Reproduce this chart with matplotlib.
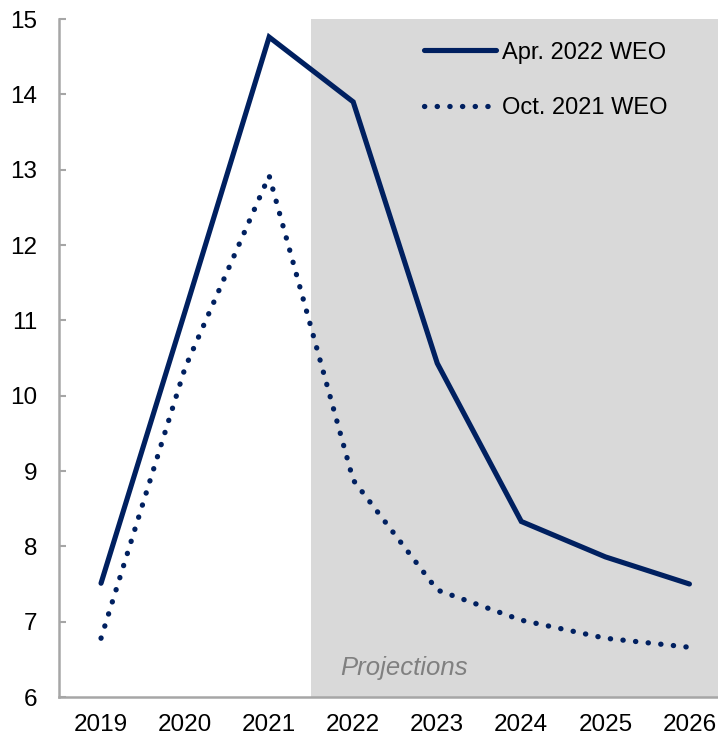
import matplotlib
matplotlib.use('Agg')
import matplotlib.pyplot as plt

plt.rcParams['font.family'] = ['Liberation Sans', 'DejaVu Sans']

years = [2019, 2020, 2021, 2022, 2023, 2024, 2025, 2026]
apr_2022 = [7.51, 11.12, 14.76, 13.90, 10.43, 8.33, 7.86, 7.50]
oct_2021 = [6.78, 10.37, 12.92, 8.88, 7.42, 7.02, 6.78, 6.66]
labels = ['Apr. 2022 WEO', 'Oct. 2021 WEO']

navy = '#002060'
grey = '#a6a6a6'

fig = plt.figure(figsize=(7.18, 7.38), dpi=100)
ax = fig.add_axes([59 / 718, 41 / 738, 1 - 59 / 718, 678 / 738])

# projection shading
ax.axvspan(2021.5, 2027, color='#d9d9d9', lw=0, zorder=0)
ax.text(2022.6, 6.39, 'Projections', style='italic', color='#808080',
        fontsize=18.5, ha='center', va='center')

ax.plot(years, apr_2022, color=navy, lw=3.7, label=labels[0],
        solid_capstyle='round', solid_joinstyle='miter')
ax.plot(years, oct_2021, color=navy, lw=3.8, linestyle=(0, (0.05, 2.35)),
        dash_capstyle='round', label=labels[1])

ax.set_xlim(2018.5, 2026.34)
ax.set_ylim(6, 15)
ax.set_xticks(years)
ax.set_yticks(range(6, 16))
ax.tick_params(axis='x', length=0, pad=12, labelsize=17.5)
ax.tick_params(axis='y', direction='in', length=5, width=1.5, color=grey,
               pad=15.5, labelsize=17.5)

for side in ['top', 'right']:
    ax.spines[side].set_visible(False)
for side in ['left', 'bottom']:
    ax.spines[side].set_color(grey)
    ax.spines[side].set_linewidth(1.8)

ax.legend(loc='upper left', bbox_to_anchor=(0.522, 0.998), frameon=False,
          fontsize=17, handlelength=3.05, handletextpad=0.25, labelspacing=1.42)

fig.savefig('out.png', dpi=100)
